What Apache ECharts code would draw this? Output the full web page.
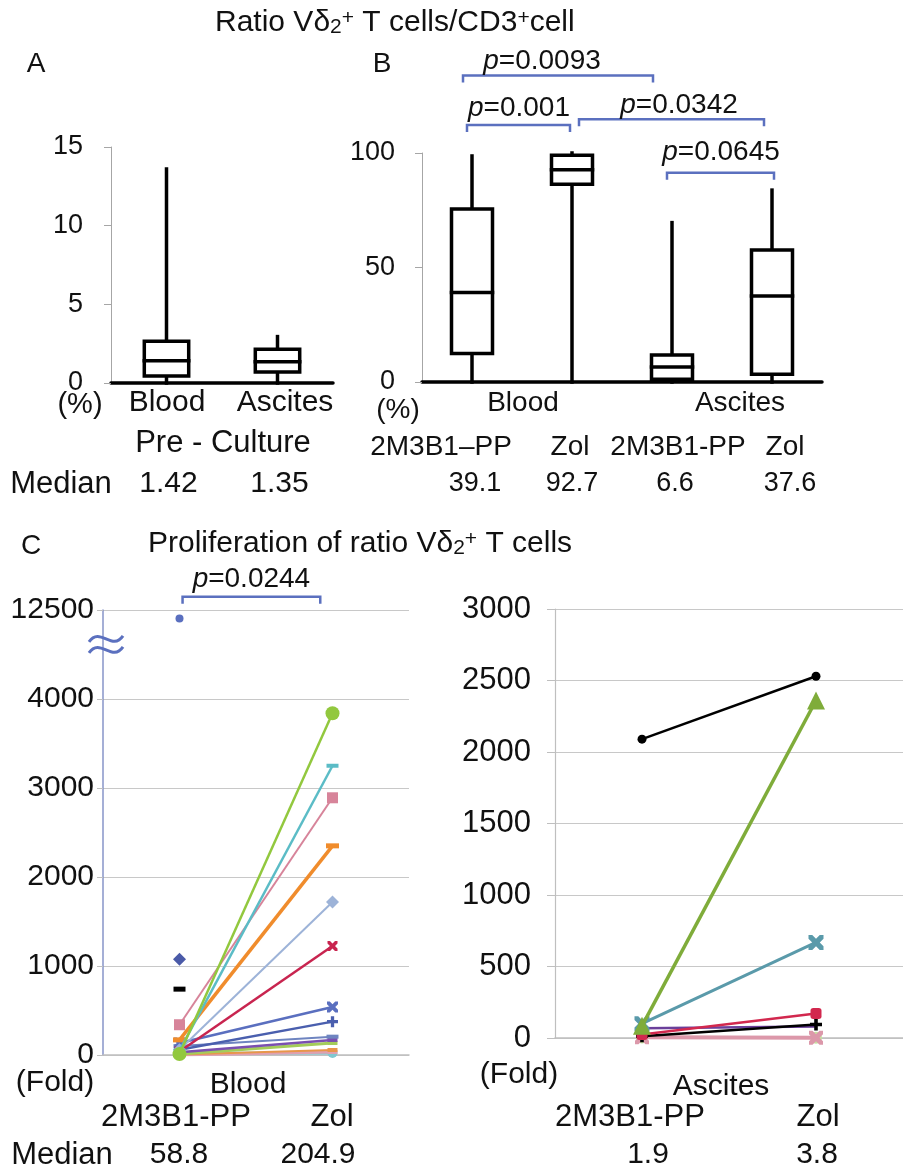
<!DOCTYPE html>
<html><head><meta charset="utf-8">
<script src="https://cdn.jsdelivr.net/npm/echarts@6/dist/echarts.min.js"></script>
<style>html,body{margin:0;padding:0;background:#fff}#c{width:903px;height:1172px}</style>
</head><body><div id="c"></div>
<script>
// ---------------- DATA ----------------
const preCategories = ['Blood', 'Ascites'];
// [min, Q1, median, Q3, max]  (%)
const preBloodBox = [0, 0.45, 1.42, 2.65, 13.6];
const preAscitesBox = [0, 0.7, 1.35, 2.15, 2.95];
const preMedians = ['1.42', '1.35'];

const cultureCategories = ['Blood 2M3B1-PP', 'Blood Zol', 'Ascites 2M3B1-PP', 'Ascites Zol'];
const cultureBloodPPBox = [0, 12.5, 39.1, 75.5, 98.7];
const cultureBloodZolBox = [0, 86.3, 92.7, 99, 100];
const cultureAscitesPPBox = [0, 1.2, 6.6, 11.8, 69.6];
const cultureAscitesZolBox = [0, 3.4, 37.6, 57.6, 83.8];
const cultureMedians = ['39.1', '92.7', '6.6', '37.6'];

const foldCategories = ['2M3B1-PP', 'Zol'];
// Blood: fold proliferation per patient (null = no value)
const bloodPP  = [10, 50, 340, 170, 60, 40, 135, 60, 100, 30, 10, 5, 0, 20, 11700, 1075, 740];
const bloodZol = [3840, 3250, 2890, 2350, 1720, 1225, 540, 375, 206, 169, 135, 56, 34, 22, null, null, null];
// Ascites
const ascitesPP  = [2090, 85, 100, 25, 12, 68, 5, 3, 8];
const ascitesZol = [2530, 2360, 668, 171, 94, 80, 2, 1, 6];
const foldMedians = ['58.8', '204.9', '1.9', '3.8'];

const yTicksPre = [0, 5, 10, 15];
const yTicksCulture = [0, 50, 100];
const yTicksBlood = [0, 1000, 2000, 3000, 4000, 12500];
const yTicksAscites = [0, 500, 1000, 1500, 2000, 2500, 3000];

const pValues = ['0.0093', '0.001', '0.0342', '0.0645', '0.0244'];

// ---------------- STYLE / LAYOUT ----------------
const FONT = '"Liberation Sans", Arial, sans-serif';
const BLUE = '#5b70bf';
const X_SYM = 'path://M0,0 L2.5,0 L5,2.5 L7.5,0 L10,0 L10,2.5 L7.5,5 L10,7.5 L10,10 L7.5,10 L5,7.5 L2.5,10 L0,10 L0,7.5 L2.5,5 L0,2.5 Z';
const PLUS_SYM = 'path://M3.5,0 L6.5,0 L6.5,3.5 L10,3.5 L10,6.5 L6.5,6.5 L6.5,10 L3.5,10 L3.5,6.5 L0,6.5 L0,3.5 L3.5,3.5 Z';

const bloodStyles = [
  {c:'#92c83e', s:'circle', z:14, w:2.5},
  {c:'#5bbcc6', s:'rect', z:[12,4], w:2.5},
  {c:'#d7849a', s:'rect', z:11, w:2},
  {c:'#f08c2c', s:'rect', z:[13,5], w:3.5},
  {c:'#9db3d8', s:'diamond', z:13, w:2},
  {c:'#c8244f', s:X_SYM, z:10, w:2.5},
  {c:'#5a6fbf', s:X_SYM, z:11, w:2.5},
  {c:'#4a5fae', s:PLUS_SYM, z:11, w:2.5},
  {c:'#6e84c0', s:'rect', z:[12,4], w:2},
  {c:'#7a4fb0', s:'rect', z:[10,4], w:2.5},
  {c:'#a4cc5a', s:'rect', z:[10,4], w:3},
  {c:'#e8964a', s:'rect', z:[10,4], w:2},
  {c:'#e0a0b0', s:'rect', z:[10,4], w:3},
  {c:'#7fc8d0', s:'circle', z:10, w:3},
  {c:'#5a6fbf', s:'circle', z:8, w:2},
  {c:'#4a5aa8', s:'diamond', z:13, w:2},
  {c:'#000000', s:'rect', z:[12,5], w:2}
];
const ascitesStyles = [
  {c:'#000000', s:'circle', z:9, w:2.5},
  {c:'#7fac3a', s:'triangle', z:18, w:3.5},
  {c:'#5a9aaa', s:X_SYM, z:15, w:3},
  {c:'#d2284e', s:'roundRect', z:11, w:2.5},
  {c:'#000000', s:PLUS_SYM, z:12, w:2.5},
  {c:'#6a3f9a', s:'none', z:6, w:2.5},
  {c:'#dc98aa', s:X_SYM, z:14, w:4},
  {c:'#c6e0a0', s:'circle', z:12, w:2},
  {c:'#e8a060', s:'none', z:6, w:2}
];

// broken y scale of the Blood fold chart: 4000..12500 compressed into one band
const BREAK_LO = 4000, BREAK_HI = 12500, BAND = 1000;
function brk(v) {
  if (v == null) return null;
  return v <= BREAK_LO ? v : BREAK_LO + (v - BREAK_LO) * BAND / (BREAK_HI - BREAK_LO);
}

const grids = [
  {left:111, top:147, width:222, height:236},
  {left:422, top:153, width:400, height:229},
  {left:103, top:610, width:306, height:445},
  {left:555, top:609, width:348, height:429}
];

function boxRender(ratio) {
  return function (params, api) {
    const x = api.value(0);
    const lo = api.coord([x, api.value(1)]);
    const q1 = api.coord([x, api.value(2)]);
    const md = api.coord([x, api.value(3)]);
    const q3 = api.coord([x, api.value(4)]);
    const hi = api.coord([x, api.value(5)]);
    const w = api.size([1, 0])[0] * ratio;
    const st = {stroke:'#000', lineWidth:3.5, fill:null, lineCap:'square'};
    return {type:'group', children:[
      {type:'line', shape:{x1:lo[0], y1:lo[1], x2:q1[0], y2:q1[1]}, style:st},
      {type:'line', shape:{x1:q3[0], y1:q3[1], x2:hi[0], y2:hi[1]}, style:st},
      {type:'rect', shape:{x:q1[0]-w/2, y:q3[1], width:w, height:q1[1]-q3[1]}, style:{stroke:'#000', lineWidth:3.5, fill:'#fff'}},
      {type:'line', shape:{x1:md[0]-w/2, y1:md[1], x2:md[0]+w/2, y2:md[1]}, style:st}
    ]};
  };
}

const labelStyle = {color:'#111', fontSize:27, fontFamily:FONT};
function yAxisOf(gi, min, max, interval, opt) {
  return Object.assign({
    gridIndex:gi, type:'value', min, max, interval,
    axisLine:{show:true, lineStyle:{color:'#a6a6a6', width:1}},
    axisTick:{show:true, length:7, inside:false, lineStyle:{color:'#a6a6a6'}},
    splitLine:{show:false},
    axisLabel:Object.assign({}, labelStyle, {margin:28})
  }, opt);
}

const series = [];
series.push({
  type:'custom', xAxisIndex:0, yAxisIndex:0, renderItem:boxRender(0.4), clip:false,
  encode:{x:0, y:[1,2,3,4,5]},
  data:[preBloodBox, preAscitesBox].map((d, i) => [i].concat(d)), animation:false
});
series.push({
  type:'custom', xAxisIndex:1, yAxisIndex:1, renderItem:boxRender(0.41), clip:false,
  encode:{x:0, y:[1,2,3,4,5]},
  data:[cultureBloodPPBox, cultureBloodZolBox, cultureAscitesPPBox, cultureAscitesZolBox].map((d, i) => [i].concat(d)),
  animation:false
});
bloodPP.forEach((pp, i) => {
  const st = bloodStyles[i];
  series.push({
    type:'line', xAxisIndex:2, yAxisIndex:2, animation:false, silent:true,
    data:[brk(pp), brk(bloodZol[i])],
    symbol:st.s, symbolSize:st.z, showSymbol:true, connectNulls:false,
    itemStyle:{color:st.c}, lineStyle:{color:st.c, width:st.w}, z:2 + (bloodPP.length - i) / 100
  });
});
ascitesPP.forEach((pp, i) => {
  const st = ascitesStyles[i];
  series.push({
    type:'line', xAxisIndex:3, yAxisIndex:3, animation:false, silent:true,
    data:[pp, ascitesZol[i]],
    symbol:st.s, symbolSize:st.z, showSymbol:true,
    itemStyle:{color:st.c}, lineStyle:{color:st.c, width:st.w}, z:2 + (ascitesPP.length - i) / 100
  });
});

const chart = echarts.init(document.getElementById('c'));
chart.setOption({
  backgroundColor:'#ffffff',
  animation:false,
  grid:grids,
  xAxis:[
    {gridIndex:0, type:'category', data:preCategories,
      axisLine:{show:true, lineStyle:{color:'#000', width:3.5}}, axisTick:{show:false}, axisLabel:{show:false}},
    {gridIndex:1, type:'category', data:cultureCategories,
      axisLine:{show:true, lineStyle:{color:'#000', width:3.5}}, axisTick:{show:false}, axisLabel:{show:false}},
    {gridIndex:2, type:'category', data:foldCategories,
      axisLine:{show:true, lineStyle:{color:'#bfbfbf', width:1.5}}, axisTick:{show:false}, axisLabel:{show:false}},
    {gridIndex:3, type:'category', data:foldCategories,
      axisLine:{show:true, lineStyle:{color:'#bfbfbf', width:1.5}}, axisTick:{show:false}, axisLabel:{show:false}}
  ],
  yAxis:[
    yAxisOf(0, yTicksPre[0], yTicksPre[yTicksPre.length-1], yTicksPre[1] - yTicksPre[0]),
    yAxisOf(1, yTicksCulture[0], yTicksCulture[yTicksCulture.length-1], yTicksCulture[1] - yTicksCulture[0],
      {axisLabel:Object.assign({}, labelStyle, {margin:27})}),
    yAxisOf(2, 0, brk(yTicksBlood[yTicksBlood.length-1]), yTicksBlood[1] - yTicksBlood[0], {
      axisLine:{show:true, lineStyle:{color:'#8795c9', width:1.5}},
      axisTick:{show:true, length:6, lineStyle:{color:'#bfbfbf'}},
      splitLine:{show:true, lineStyle:{color:'#c8c8c8', width:1.2}},
      axisLabel:Object.assign({}, labelStyle, {fontSize:30, margin:9,
        formatter: v => { const t = yTicksBlood.find(k => Math.abs(brk(k) - v) < 1e-6); return t == null ? '' : String(t); }})
    }),
    yAxisOf(3, yTicksAscites[0], yTicksAscites[yTicksAscites.length-1], yTicksAscites[1] - yTicksAscites[0], {
      axisLine:{show:true, lineStyle:{color:'#bfbfbf', width:1.2}},
      axisTick:{show:true, length:8, lineStyle:{color:'#bfbfbf'}},
      splitLine:{show:true, lineStyle:{color:'#c8c8c8', width:1.2}},
      axisLabel:Object.assign({}, labelStyle, {fontSize:31, margin:24, formatter: v => String(v)})
    })
  ],
  series
});

// ---------------- ANNOTATIONS ----------------
function px(gi, t, v) {
  const a = chart.convertToPixel({xAxisIndex:gi, yAxisIndex:gi}, [0, v]);
  const b = chart.convertToPixel({xAxisIndex:gi, yAxisIndex:gi}, [1, v]);
  return [a[0] + (b[0] - a[0]) * t, a[1]];
}
function txt(x, y, s, size, extra) {
  return {type:'text', x, y, silent:true, z:100,
    style:Object.assign({text:s, fill:'#111', fontSize:size, fontFamily:FONT, align:'center', verticalAlign:'middle'}, extra || {})};
}
function richOf(size, subSize) {
  return {
    sub:{fontSize:subSize, fontFamily:FONT, fill:'#111', verticalAlign:'bottom', lineHeight:subSize},
    sup:{fontSize:subSize, fontFamily:FONT, fill:'#111', verticalAlign:'top', lineHeight:subSize},
    i:{fontSize:size, fontFamily:FONT, fill:'#111', fontStyle:'italic'}
  };
}
const g = [];
g.push(txt(215, 23, 'Ratio Vδ{sub|2}{sup|+} T cells/CD3{sup|+}cell', 30, {align:'left', rich:richOf(30, 21)}));
g.push(txt(36, 64, 'A', 28));
g.push(txt(382, 64, 'B', 28));
g.push(txt(31, 546, 'C', 28));
g.push(txt(148, 544, 'Proliferation of ratio Vδ{sub|2}{sup|+} T cells', 30, {align:'left', rich:richOf(30, 21)}));

// panel A texts
g.push(txt(80, 405, '(%)', 29));
g.push(txt(167, 403, preCategories[0], 30));
g.push(txt(285, 403, preCategories[1], 30));
g.push(txt(223, 443, 'Pre - Culture', 31));
g.push(txt(61, 484, 'Median', 31));
preMedians.forEach((m, i) => g.push(txt(px(0, i, 0)[0] + 2, 484, m, 30)));

// panel B texts
g.push(txt(398, 410, '(%)', 28));
g.push(txt(523, 403, 'Blood', 28));
g.push(txt(740, 403, 'Ascites', 28));
[[441, '2M3B1–PP'], [570, 'Zol'], [678, '2M3B1-PP'], [785, 'Zol']].forEach(d => g.push(txt(d[0], 447, d[1], 28)));
[475, 572, 675, 790].forEach((x, i) => g.push(txt(x, 484, cultureMedians[i], 27)));

// panel C texts
g.push(txt(55, 1083, '(Fold)', 30));
g.push(txt(248, 1085, 'Blood', 30));
g.push(txt(519, 1075, '(Fold)', 30));
g.push(txt(721, 1087, 'Ascites', 30));
[[176, '2M3B1-PP'], [332, 'Zol'], [630, '2M3B1-PP'], [818, 'Zol']].forEach(d => g.push(txt(d[0], 1117, d[1], 31)));
g.push(txt(62, 1155, 'Median', 31));
[179, 318, 648, 817].forEach((x, i) => g.push(txt(x, 1155, foldMedians[i], 30)));

// significance brackets: [grid, from, to, yValue, textPos, textOffset, label]
const brackets = [
  [1, -0.09, 1.81, 133.8, 0.70, 14, pValues[0]],
  [1, -0.05, 0.98, 112.2, 0.47, 17, pValues[1]],
  [1, 1.07, 2.92, 114.7, 2.07, 14, pValues[2]],
  [1, 1.95, 3.02, 91.4, 2.49, 20, pValues[3]],
  [2, 0.02, 0.92, 5150, 0.47, 17, pValues[4]]
];
brackets.forEach(b => {
  const p1 = px(b[0], b[1], b[3]);
  const p2 = px(b[0], b[2], b[3]);
  g.push({type:'polyline', silent:true, z:90,
    shape:{points:[[p1[0], p1[1] + 7], [p1[0], p1[1]], [p2[0], p2[1]], [p2[0], p2[1] + 7]]},
    style:{stroke:BLUE, lineWidth:2.5, fill:null}});
  const pt = px(b[0], b[4], b[3]);
  g.push(txt(pt[0], pt[1] - b[5], '{i|p}=' + b[6], 28, {rich:richOf(28, 18)}));
});

// axis break symbol on the Blood fold axis
const bp = chart.convertToPixel({xAxisIndex:2, yAxisIndex:2}, [0, 4620]);
const axX = grids[2].left + 3;
[-5, 6].forEach(dy => {
  g.push({type:'bezierCurve', silent:true, z:95,
    shape:{x1:axX - 17, y1:bp[1] + dy + 3, cpx1:axX - 6, cpy1:bp[1] + dy - 13,
           cpx2:axX + 6, cpy2:bp[1] + dy + 13, x2:axX + 17, y2:bp[1] + dy - 3},
    style:{stroke:BLUE, lineWidth:3, fill:null}});
});

chart.setOption({graphic:g});
</script>
</body></html>
